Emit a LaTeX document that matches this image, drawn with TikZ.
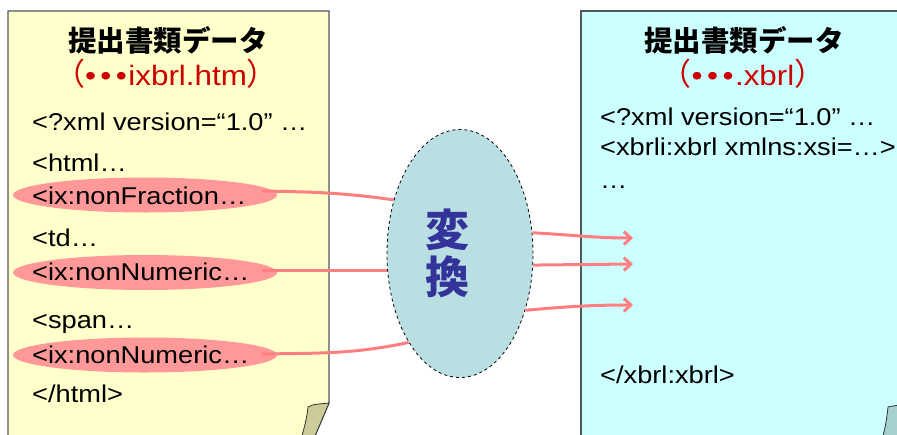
\documentclass[tikz,border=0pt]{standalone}
\usepackage{fontspec}
\setmainfont{Liberation Sans}[FakeStretch=1.12]
\newfontfamily\cjk{Noto Sans CJK JP}
\usetikzlibrary{shapes.geometric,arrows.meta}
\definecolor{docyellow}{HTML}{FFFFCC}
\definecolor{doccyan}{HTML}{CCFFFF}
\definecolor{ovalpink}{HTML}{FF9999}
\definecolor{linkpink}{HTML}{FF7F80}
\definecolor{convfill}{HTML}{B9DFE3}
\definecolor{convtext}{HTML}{333399}
\definecolor{fnred}{HTML}{CC0000}
\definecolor{foldolive}{HTML}{CCCC99}
\definecolor{foldcyan}{HTML}{A6CFCF}
\definecolor{docborder}{HTML}{4D5959}
\newcommand{\fnparen}[1]{{\cjk\fontsize{31}{32}\selectfont #1}}
\newcommand{\fndots}{•\hspace{4.5pt}•\hspace{4.5pt}•\hspace{1.5pt}}
\tikzset{
  x=1pt, y=-1pt,
  docline/.style={draw=docborder, line width=1.2pt},
  foldline/.style={draw=black!80, line width=0.8pt},
  codetext/.style={anchor=base west, inner sep=0pt, font=\fontsize{24.3}{28}\selectfont},
  titletext/.style={inner sep=0pt, font=\cjk\bfseries\fontsize{28.5}{32}\selectfont},
  fntext/.style={anchor=base, inner sep=0pt, text=fnred, font=\fontsize{28}{32}\selectfont},
  pinkoval/.style={ellipse, fill=ovalpink, minimum width=264pt, minimum height=35pt, inner sep=0pt},
  convnode/.style={ellipse, draw=black, dashed, line width=0.8pt, fill=convfill, minimum width=146pt, minimum height=248pt, inner sep=0pt},
  link/.style={draw=linkpink, line width=3pt},
  linkarrow/.style={link, -{Straight Barb[length=7pt, width=13pt, line width=3pt]}},
}
\begin{document}
\begin{tikzpicture}
\useasboundingbox (0,0) rectangle (897,434);
\clip (0,0) rectangle (897,434);
% left document
\path[docline, fill=docyellow] (8,11) -- (329,11) -- (329,403) -- (315,436) -- (8,436) -- cycle;
\path[foldline, fill=foldolive] (329,403) .. controls (320,404) and (312,404) .. (308,407) .. controls (307,418) and (304,428) .. (302,436) -- (315,436) -- cycle;
% right document
\path[docline, fill=doccyan] (581,11) -- (900,11) -- (900,436) -- (581,436) -- cycle;
\path[foldline, fill=foldcyan] (899,405) .. controls (895,406) and (891,406) .. (888,407) .. controls (887,418) and (885,428) .. (883,436) -- (899,436) -- cycle;

% left texts
\node[titletext] (ltitle) at (168,40.5) {提出書類データ};
\node[fntext] (lfile) at (166,85) {\fnparen{（}\fndots ixbrl.htm\fnparen{）}};
\node[pinkoval] (o1) at (145,195) {};
\node[pinkoval] (o2) at (145,272.5) {};
\node[pinkoval] (o3) at (145,355) {};
\node[codetext] (l1) at (32,130) {<?xml version=“1.0” …};
\node[codetext] (l2) at (32,171.5) {<html…};
\node[codetext] (l3) at (32,204) {<ix:nonFraction…};
\node[codetext] (l4) at (32,246) {<td…};
\node[codetext] (l5) at (32,280.5) {<ix:nonNumeric…};
\node[codetext] (l6) at (32,328) {<span…};
\node[codetext] (l7) at (32,363.5) {<ix:nonNumeric…};
\node[codetext] (l8) at (32,402) {</html>};

% right texts
\node[titletext] (rtitle) at (744,40.5) {提出書類データ};
\node[fntext] (rfile) at (743,85) {\fnparen{（}\fndots.xbrl\fnparen{）}};
\node[codetext] (r1) at (600,125) {<?xml version=“1.0” …};
\node[codetext] (r2) at (600,155) {<xbrli:xbrl xmlns:xsi=…>};
\node[codetext] (r3) at (600,188) {…};
\node[codetext] (r4) at (600,383) {</xbrl:xbrl>};

% conversion
\node[convnode] (conv) at (460,253.5) {};
\node[inner sep=0pt, align=center, text=convtext, font=\cjk\bfseries\fontsize{44}{47}\selectfont] (convlabel) at (447,253.5) {変\\換};

% connectors
\coordinate (s1) at (262,191);
\coordinate (s2) at (262,270);
\coordinate (s3) at (262,354);
\coordinate (t1) at (633,238);
\coordinate (t2) at (633,264);
\coordinate (t3) at (633,305);
\draw[link] (s1) to[out=-1, in=172] (conv.141);
\draw[link] (s2) -- (conv.west |- s2);
\draw[link] (s3) to[out=1, in=192] (conv.240);
\draw[linkarrow] (conv.16) to[out=-3, in=180] (t1);
\draw[linkarrow] (conv.-9) -- (t2);
\draw[linkarrow] (conv.-41) to[out=5, in=180] (t3);
\end{tikzpicture}
\end{document}
